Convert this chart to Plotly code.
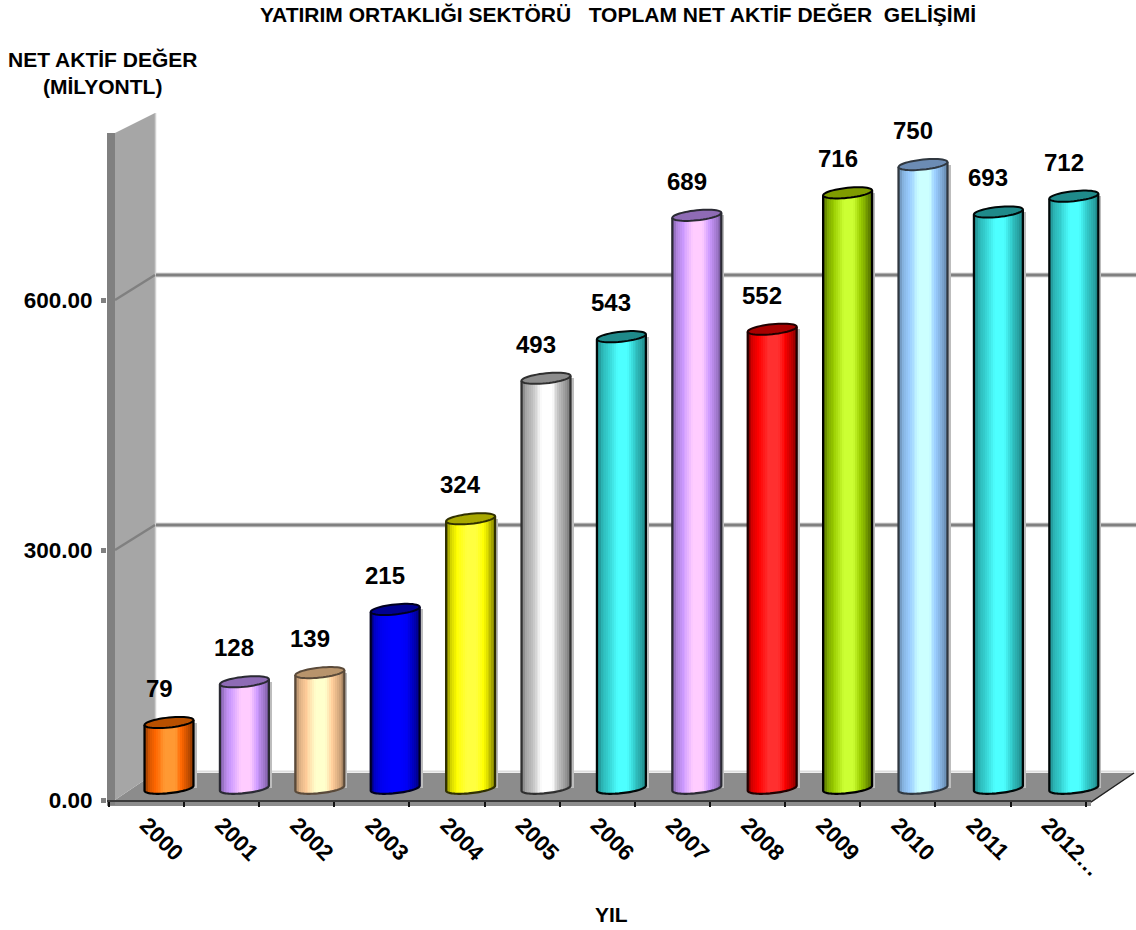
import math
import plotly.graph_objects as go

# ---- data ----
YEARS = ["2000", "2001", "2002", "2003", "2004", "2005", "2006", "2007", "2008", "2009", "2010", "2011", "2012…"]
VALUES = [79, 128, 139, 215, 324, 493, 543, 689, 552, 716, 750, 693, 712]
Y_TICKS = [0, 300, 600]
TITLE = "YATIRIM ORTAKLIĞI SEKTÖRÜ   TOPLAM NET AKTİF DEĞER  GELİŞİMİ"
Y_TITLE = "NET AKTİF DEĞER<br>(MİLYONTL)"
X_TITLE = "YIL"

# ---- style: (shadow, main, highlight, top, outline) per bar ----
TEAL = ("#1c7f80", "#33CCCC", "#4DFFFF", "#1f8a8a", "#000808")
LILAC = ("#75589a", "#CC99FF", "#FFCCFF", "#8e6bb5", "#2a2a33")
STYLES = [
    ("#7a3000", "#FF6600", "#FF9933", "#b85000", "#000000"),
    LILAC,
    ("#9c7c5c", "#FFCC99", "#FFFFCC", "#b8946c", "#5a4a3a"),
    ("#000070", "#0000F0", "#0000FF", "#000090", "#000020"),
    ("#7c7c00", "#FFFF00", "#FFFF40", "#a8a800", "#303000"),
    ("#6c6c6c", "#C0C0C0", "#FFFFFF", "#8c8c8c", "#303030"),
    TEAL,
    LILAC,
    ("#7a0000", "#FF0000", "#FF3030", "#a80000", "#200000"),
    ("#4a6400", "#99CC00", "#CCFF33", "#7f9c00", "#000000"),
    ("#5c7c9c", "#99CCFF", "#CCFFFF", "#6c8cb4", "#303840"),
    TEAL,
    TEAL,
]

W, H = 1136, 930
PX_PER_UNIT = 0.8315
BASE_PX = 788.2
CX0, PITCH = 169.0, 75.4
HALF_W, ELL_B, ELL_K = 24.5, 5.0, 2.5
N = 26


def fx(px):
    return px / W


def fy(py):
    return 1 - py / H


def paper_poly(pts, **kw):
    path = "M" + " L".join(f"{fx(x):.5f},{fy(y):.5f}" for x, y in pts) + " Z"
    return dict(type="path", xref="paper", yref="paper", path=path, **kw)


def paper_line(x0, y0, x1, y1, color, width, layer="below"):
    return dict(type="line", xref="paper", yref="paper", x0=fx(x0), y0=fy(y0), x1=fx(x1), y1=fy(y1),
                line=dict(color=color, width=width), layer=layer)


def hex2rgb(c):
    return tuple(int(c[i:i + 2], 16) for i in (1, 3, 5))


def mix(c1, c2, t):
    a, b = hex2rgb(c1), hex2rgb(c2)
    return "#%02x%02x%02x" % tuple(round(a[i] + (b[i] - a[i]) * t) for i in range(3))


def gradient(style, u):
    dark, main, hi = style[:3]
    stops = [(0, dark), (0.10, mix(dark, main, 0.7)), (0.22, main), (0.42, hi), (0.62, hi),
             (0.76, main), (0.90, mix(main, dark, 0.5)), (1, dark)]
    for (a, ca), (b, cb) in zip(stops, stops[1:]):
        if u <= b:
            return mix(ca, cb, (u - a) / (b - a))
    return dark


ux = HALF_W / PITCH  # half width in x2 units
fig = go.Figure()

# axes carrier on the x/y subplot
fig.add_trace(go.Scatter(x=YEARS, y=[0] * len(YEARS), mode="none", showlegend=False, hoverinfo="skip",
                         xaxis="x", yaxis="y"))

idx = list(range(len(VALUES)))
# soft grey shadow at the right of each cylinder
fig.add_trace(go.Bar(x=idx, y=VALUES, base=[0] * len(idx), width=2 * ux, offset=-ux + 3 / PITCH,
                     marker=dict(color="#bdbdbd", line_width=0), xaxis="x2", yaxis="y2",
                     showlegend=False, hoverinfo="skip"))
# cylinder body as vertical gradient slices
for s in range(N):
    u0 = s / N
    um = (s + 0.5) / N
    t = 2 * um - 1
    low = (ELL_K * t - ELL_B * math.sqrt(max(1 - t * t, 0))) / PX_PER_UNIT
    top = ELL_K * t / PX_PER_UNIT
    fig.add_trace(go.Bar(
        x=idx, y=[v + top - low for v in VALUES], base=[low] * len(idx),
        width=2 * ux / N * 1.25, offset=-ux + 2 * ux * u0,
        marker=dict(color=[gradient(st, um) for st in STYLES], line_width=0),
        xaxis="x2", yaxis="y2", showlegend=False,
        hovertemplate="%{customdata}<extra></extra>", customdata=VALUES))

shapes = []
# walls and floor
shapes.append(paper_poly([(115, 800), (155, 773), (1134, 773), (1091, 803), (1091, 806), (107, 806), (107, 800)],
                         fillcolor="#8C8C8C", line=dict(width=0), layer="below"))
shapes.append(paper_line(155, 771.5, 1134, 771.5, "#DDDDDD", 2))
shapes.append(paper_poly([(115, 133), (155, 113), (155, 773), (115, 800)], fillcolor="#A6A6A6",
                         line=dict(width=0), layer="below"))
shapes.append(paper_poly([(107, 133), (115, 133), (115, 805), (107, 805)], fillcolor="#808080",
                         line=dict(width=0), layer="below"))
shapes.append(paper_line(155.5, 113, 155.5, 773, "#D0D0D0", 1.5))
shapes.append(paper_line(1091, 802, 1134, 773, "#202020", 1.5))
# gridlines: front end on the wall, back wall line
for v in Y_TICKS[1:]:
    front = 800 - v * 250 / 300
    back = front - 25
    shapes.append(paper_line(156, back, W, back, "#DADADA", 5))
    shapes.append(paper_line(156, back, W, back, "#808080", 3))
    shapes.append(paper_line(115, front, 155, back, "#808080", 2.5))

# cylinder outlines and top ellipses, placed from the values on x2/y2


def dx(px_off, i):
    return i + px_off / PITCH


def dy(val, px_off):
    return val - px_off / PX_PER_UNIT


for i, (v, st) in enumerate(zip(VALUES, STYLES)):
    arc = []
    for k in range(0, 37):
        a = math.pi * k / 36
        c = -math.cos(a)
        arc.append((dx(HALF_W * c, i), dy(0, ELL_B * math.sin(a) - ELL_K * c)))
    tl = (dx(-HALF_W, i), dy(v, ELL_K))
    tr = (dx(HALF_W, i), dy(v, -ELL_K))
    path = f"M{tl[0]:.4f},{tl[1]:.2f} " + " ".join(f"L{x:.4f},{y:.2f}" for x, y in arc) + f" L{tr[0]:.4f},{tr[1]:.2f}"
    shapes.append(dict(type="path", xref="x2", yref="y2", path=path,
                       line=dict(color=st[4], width=2.2), layer="above"))
    ell = []
    for k in range(0, 48):
        a = 2 * math.pi * k / 48
        c, sn = math.cos(a), math.sin(a)
        ell.append((dx(HALF_W * c, i), dy(v, -ELL_B * sn - ELL_K * c)))
    path = "M" + " L".join(f"{x:.4f},{y:.2f}" for x, y in ell) + " Z"
    shapes.append(dict(type="path", xref="x2", yref="y2", path=path, fillcolor=st[3],
                       line=dict(color=st[4], width=2), layer="above"))

FONT = "Liberation Sans, Arial, sans-serif"
annotations = [
    dict(xref="x2", yref="y2", x=i, y=v, text=f"<b>{v}</b>", showarrow=False, xshift=-10, yshift=34,
         xanchor="center", yanchor="middle", font=dict(family=FONT, size=24, color="#000000"))
    for i, v in enumerate(VALUES)
]
annotations.append(dict(xref="paper", yref="paper", x=fx(102), y=fy(73), text=f"<b>{Y_TITLE}</b>", showarrow=False,
                        xanchor="center", yanchor="middle",
                        font=dict(family=FONT, size=21, color="#000000"), align="center"))
annotations.append(dict(xref="paper", yref="paper", x=fx(612), y=fy(914), text=f"<b>{X_TITLE}</b>", showarrow=False,
                        xanchor="center", yanchor="middle",
                        font=dict(family=FONT, size=21, color="#000000")))

fig.update_layout(
    width=W, height=H, autosize=False, margin=dict(l=0, r=0, t=0, b=0, pad=0),
    paper_bgcolor="#FFFFFF", plot_bgcolor="rgba(0,0,0,0)", barmode="overlay", bargap=0, showlegend=False,
    title=dict(text=f"<b>{TITLE}</b>", x=fx(618), xanchor="center", y=fy(15), yanchor="middle",
               font=dict(family=FONT, size=21, color="#000000")),
    xaxis=dict(domain=[fx(107), fx(1091)], type="category", categoryorder="array", categoryarray=YEARS,
               range=[-0.525, 12.57], tickson="boundaries", ticks="outside", ticklen=5, tickwidth=1.5,
               tickcolor="#111111", showline=True, linecolor="#3a3a3a", linewidth=2, showgrid=False,
               zeroline=False, tickangle=45, anchor="y", ticklabelstandoff=1,
               tickfont=dict(family=FONT, size=22.5, color="#000000", weight="bold"), automargin=False),
    yaxis=dict(domain=[fy(800), fy(133)], range=[0, 667 / (250 / 300)], tickmode="array", tickvals=Y_TICKS,
               ticktext=[f"{t:.2f}" for t in Y_TICKS], ticks="outside", ticklen=5, tickwidth=5, tickcolor="#808080",
               showline=False, showgrid=False, zeroline=False, anchor="x", ticklabelstandoff=4,
               tickfont=dict(family=FONT, size=22.5, color="#000000", weight="bold"), automargin=False),
    xaxis2=dict(domain=[0, 1], range=[-CX0 / PITCH, (W - CX0) / PITCH], visible=False, anchor="y2"),
    yaxis2=dict(domain=[0, 1], range=[(BASE_PX - H) / PX_PER_UNIT, BASE_PX / PX_PER_UNIT], visible=False, anchor="x2"),
    shapes=shapes, annotations=annotations,
)

fig.write_html("out.html", config=dict(displayModeBar=False),
               post_script="document.body.style.margin='0';document.body.style.overflow='hidden';")
